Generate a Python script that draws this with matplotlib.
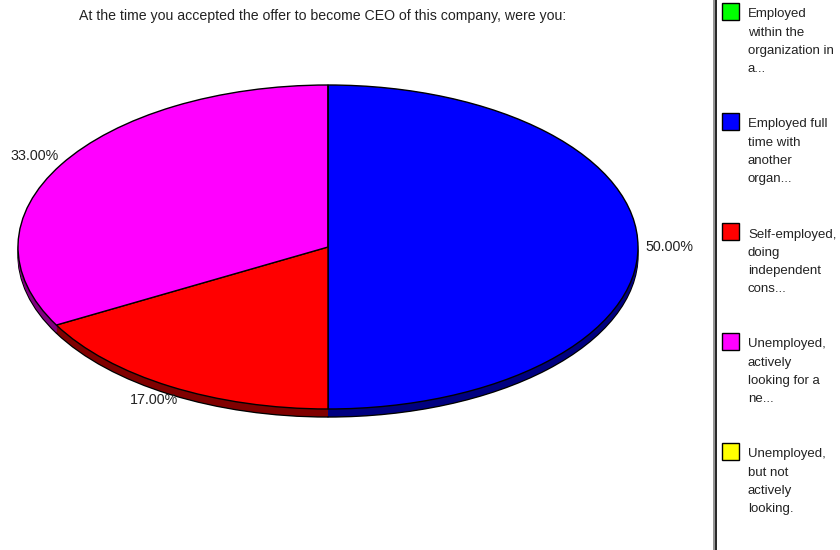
import matplotlib
matplotlib.use("Agg")
import matplotlib.pyplot as plt
from matplotlib.patches import Rectangle
from matplotlib.lines import Line2D

plt.rcParams['font.family'] = ['Liberation Sans', 'DejaVu Sans']

title = "At the time you accepted the offer to become CEO of this company, were you:"
categories = [
    "Employed\nwithin the\norganization in\na...",
    "Employed full\ntime with\nanother\norgan...",
    "Self-employed,\ndoing\nindependent\ncons...",
    "Unemployed,\nactively\nlooking for a\nne...",
    "Unemployed,\nbut not\nactively\nlooking.",
]
values = [0, 50, 17, 33, 0]
top_colors = ["#00ff00", "#0000ff", "#ff0000", "#ff00ff", "#ffff00"]
side_colors = ["#008000", "#000080", "#800000", "#800080", "#808000"]

W, H = 840, 550
fig = plt.figure(figsize=(W / 100, H / 100), dpi=100)

# pie axes occupies the area left of the legend divider
ax = fig.add_axes([0, 0, 715 / W, 1])

cx_px, cy_px = 328, 247      # centre in pixels (from top)
rx_px, ry_px = 310, 162
depth_px = 8

def pct(p):
    return f"{p:.2f}%" if p > 0 else ""

nlayers = 9
for k in range(nlayers, 0, -1):
    off = depth_px * k / nlayers / ry_px
    ax.pie(values, colors=side_colors, startangle=90, counterclock=False,
           center=(0, -off), radius=1,
           wedgeprops=dict(edgecolor="black" if k == nlayers else "none",
                           linewidth=1.0))

wedges, texts, autotexts = ax.pie(
    values, colors=top_colors, startangle=90, counterclock=False,
    center=(0, 0), radius=1, autopct=pct, pctdistance=1.10,
    wedgeprops=dict(edgecolor="black", linewidth=1.0),
    textprops=dict(fontsize=10.3, color="#222222"))

ax.set_aspect('auto')
ax_w_px = 715
ax.set_xlim(-cx_px / rx_px, (ax_w_px - cx_px) / rx_px)
ax.set_ylim(-(H - cy_px) / ry_px, cy_px / ry_px)
ax.axis('off')

fig.text(323 / W, 1 - 16 / H, title, ha='center', va='center',
         fontsize=10.2, color="#222222")

# divider line
fig.add_artist(Line2D([714 / W, 714 / W], [0, 1], color="#808080", lw=1.2,
                      transform=fig.transFigure))
fig.add_artist(Line2D([716 / W, 716 / W], [0, 1], color="black", lw=1.2,
                      transform=fig.transFigure))

# legend
for i, (lab, col) in enumerate(zip(categories, top_colors)):
    top = 3 + i * 110
    fig.add_artist(Rectangle((722 / W, 1 - (top + 17) / H), 17 / W, 17 / H,
                             facecolor=col, edgecolor="black", lw=1.0,
                             transform=fig.transFigure))
    fig.text(748 / W, 1 - (top + 5.5) / H, lab, ha='left', va='top',
             fontsize=9.5, color="#222222", linespacing=1.67)

fig.savefig("out.png", dpi=100)
